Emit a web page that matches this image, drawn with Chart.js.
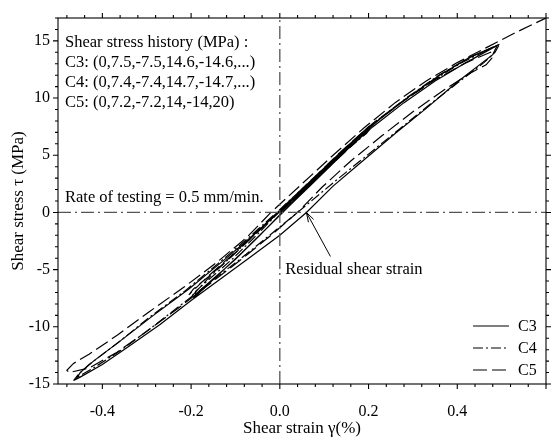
<!DOCTYPE html>
<html lang="en">
<head>
  <meta charset="UTF-8">
  <title>Shear stress - shear strain hysteresis</title>
  <script src="https://cdn.jsdelivr.net/npm/chart.js"></script>
  <style>
    html, body { margin: 0; padding: 0; background: #fff; }
  </style>
</head>
<body>
  <canvas id="hystChart" width="556" height="439"></canvas>

  <script>
    // values (strain in %, stress in MPa)
    const c3Strain = [0, 0.05, 0.1, 0.15, 0.2,
      0.195, 0.16, 0.115, 0.07, 0.025, -0.03, -0.085, -0.14, -0.195,
      -0.185, -0.15, -0.1, -0.045, 0.01, 0.08, 0.15, 0.22, 0.29, 0.36, 0.43, 0.49,
      0.48, 0.45, 0.4, 0.33, 0.26, 0.19, 0.12, 0.06, 0.0, -0.07, -0.14, -0.2, -0.27, -0.34, -0.4, -0.45, -0.46,
      -0.45, -0.42, -0.355, -0.285, -0.205, -0.13, -0.06, 0.0, 0.07, 0.14, 0.21, 0.28, 0.35, 0.42, 0.49];
    const c3Stress = [0, 1.9, 3.8, 5.7, 7.5,
      7.0, 5.8, 4.1, 2.4, 0.7, -1.4, -3.5, -5.5, -7.5,
      -7.0, -5.8, -4.1, -2.0, 0.2, 2.9, 5.6, 8.0, 10.1, 12.0, 13.6, 14.6,
      13.8, 12.9, 11.4, 9.1, 6.9, 4.6, 2.3, 0.0, -2.0, -4.0, -6.0, -7.7, -9.8, -11.7, -13.3, -14.4, -14.6,
      -14.0, -13.0, -11.1, -9.0, -6.7, -4.3, -2.0, 0.1, 2.6, 5.1, 7.5, 9.6, 11.5, 13.1, 14.6];

    const c4Strain = [0, 0.05, 0.1, 0.15, 0.205,
      0.195, 0.155, 0.105, 0.055, 0.005, -0.05, -0.105, -0.16, -0.2,
      -0.19, -0.155, -0.105, -0.05, 0.005, 0.075, 0.145, 0.215, 0.285, 0.355, 0.425, 0.495,
      0.485, 0.46, 0.41, 0.34, 0.27, 0.2, 0.13, 0.04, -0.02, -0.09, -0.16, -0.22, -0.29, -0.36, -0.42, -0.46, -0.465,
      -0.455, -0.43, -0.365, -0.295, -0.215, -0.14, -0.07, -0.01, 0.06, 0.13, 0.2, 0.27, 0.34, 0.41, 0.495];
    const c4Stress = [0, 1.8, 3.6, 5.5, 7.4,
      6.9, 5.6, 3.9, 2.1, 0.3, -1.7, -3.7, -5.7, -7.4,
      -6.9, -5.7, -4.0, -1.9, 0.3, 2.9, 5.5, 7.9, 10.0, 11.9, 13.5, 14.7,
      14.0, 13.1, 11.6, 9.5, 7.3, 5.1, 2.9, 0.0, -1.9, -4.1, -6.2, -8.0, -10.1, -12.1, -13.6, -14.5, -14.7,
      -14.2, -13.3, -11.4, -9.2, -6.9, -4.5, -2.2, -0.1, 2.4, 5.0, 7.4, 9.5, 11.4, 13.1, 14.7];

    const c5Strain = [0, 0.05, 0.1, 0.15, 0.2,
      0.19, 0.15, 0.1, 0.05, 0.0, -0.055, -0.11, -0.165, -0.205,
      -0.195, -0.16, -0.11, -0.055, 0.0, 0.07, 0.14, 0.21, 0.28, 0.35, 0.42, 0.475,
      0.478, 0.465, 0.43, 0.37, 0.3, 0.23, 0.16, 0.095, 0.04, -0.02, -0.09, -0.16, -0.23, -0.3, -0.37, -0.43, -0.475,
      -0.48, -0.465, -0.43, -0.365, -0.295, -0.215, -0.14, -0.075, -0.02, 0.05, 0.12, 0.19, 0.26, 0.33, 0.4, 0.47, 0.53, 0.6, 0.73];
    const c5Stress = [0, 1.8, 3.6, 5.4, 7.2,
      6.8, 5.5, 3.8, 2.0, 0.2, -1.8, -3.8, -5.7, -7.2,
      -6.7, -5.6, -3.9, -1.9, 0.2, 2.8, 5.4, 7.8, 9.8, 11.6, 13.1, 14.0,
      13.5, 12.9, 12.2, 10.7, 8.8, 6.7, 4.5, 2.2, 0.0, -2.0, -4.2, -6.3, -8.4, -10.4, -12.3, -13.6, -14.0,
      -13.8, -13.2, -12.4, -10.7, -8.7, -6.5, -4.3, -2.2, 0.0, 2.5, 5.0, 7.4, 9.6, 11.5, 13.1, 14.5, 15.7, 17.0, 20.0];

    const seriesNames = ['C3', 'C4', 'C5'];
    const historyLines = [
      'Shear stress history (MPa) :',
      'C3: (0,7.5,-7.5,14.6,-14.6,...)',
      'C4: (0,7.4,-7.4,14.7,-14.7,...)',
      'C5: (0,7.2,-7.2,14,-14,20)'
    ];
    const rateNote = 'Rate of testing = 0.5 mm/min.';
    const residualNote = 'Residual shear strain';
    const residualStrain = 0.06;

    const xMin = -0.5, xMax = 0.6, xMajor = 0.2, xMinor = 0.04;
    const yMin = -15, yMax = 17, yMajor = 5, yMinor = 1;

    const serif = "'Liberation Serif', 'Times New Roman', serif";

    function toPoints(xs, ys) {
      return xs.map((v, i) => ({ x: v, y: ys[i] }));
    }

    // box round the plot with outward major/minor ticks on all four sides
    const frameTicks = {
      id: 'frameTicks',
      afterDatasetsDraw(chart) {
        const { ctx, chartArea: a, scales: { x, y } } = chart;
        ctx.save();
        ctx.strokeStyle = '#000';
        ctx.lineWidth = 1.1;
        ctx.setLineDash([]);
        ctx.strokeRect(a.left, a.top, a.right - a.left, a.bottom - a.top);
        ctx.beginPath();
        const kx0 = Math.ceil(xMin / xMinor - 1e-6), kx1 = Math.floor(xMax / xMinor + 1e-6);
        for (let k = kx0; k <= kx1; k++) {
          const px = x.getPixelForValue(k * xMinor);
          const len = Math.abs(k * xMinor / xMajor - Math.round(k * xMinor / xMajor)) < 1e-6 ? 5 : 3;
          ctx.moveTo(px, a.bottom); ctx.lineTo(px, a.bottom + len);
          ctx.moveTo(px, a.top); ctx.lineTo(px, a.top - len);
        }
        for (let k = yMin; k <= yMax; k += yMinor) {
          const py = y.getPixelForValue(k);
          const len = k % yMajor === 0 ? 5 : 3;
          ctx.moveTo(a.left, py); ctx.lineTo(a.left - len, py);
          ctx.moveTo(a.right, py); ctx.lineTo(a.right + len, py);
        }
        ctx.stroke();
        ctx.restore();
      }
    };

    // text notes, residual strain arrow and the legend
    const notes = {
      id: 'notes',
      afterDraw(chart) {
        const { ctx, chartArea: a, scales: { x, y } } = chart;
        ctx.save();
        ctx.fillStyle = '#000';
        ctx.strokeStyle = '#000';
        ctx.font = '16.5px ' + serif;
        ctx.textBaseline = 'alphabetic';
        ctx.textAlign = 'left';
        historyLines.forEach((t, i) => ctx.fillText(t, a.left + 7, a.top + 29 + i * 20));

        const y0 = y.getPixelForValue(0);
        ctx.fillText(rateNote, a.left + 7, y0 - 10);
        ctx.fillText(residualNote, x.getPixelForValue(0.012), y0 + 62);

        // arrow to the residual strain
        const tipX = x.getPixelForValue(residualStrain), tipY = y0;
        const tailX = tipX + 24, tailY = tipY + 44;
        const ang = Math.atan2(tipY - tailY, tipX - tailX);
        ctx.lineWidth = 1;
        ctx.beginPath();
        ctx.moveTo(tailX, tailY);
        ctx.lineTo(tipX, tipY);
        ctx.moveTo(tipX - 10 * Math.cos(ang - 0.3), tipY - 10 * Math.sin(ang - 0.3));
        ctx.lineTo(tipX, tipY);
        ctx.lineTo(tipX - 10 * Math.cos(ang + 0.3), tipY - 10 * Math.sin(ang + 0.3));
        ctx.stroke();

        // legend, lower right
        ctx.font = '16px ' + serif;
        ctx.textBaseline = 'middle';
        const legendSets = chart.data.datasets.filter(d => d.inLegend);
        legendSets.forEach((d, i) => {
          const ly = a.bottom - 58 + i * 22;
          ctx.setLineDash(d.borderDash || []);
          ctx.lineWidth = d.borderWidth;
          ctx.beginPath();
          ctx.moveTo(a.right - 73, ly);
          ctx.lineTo(a.right - 37, ly);
          ctx.stroke();
          ctx.setLineDash([]);
          ctx.fillText(d.label, a.right - 28, ly + 1);
        });
        ctx.restore();
      }
    };

    const lineStyle = {
      showLine: true,
      borderColor: '#000',
      borderWidth: 1.2,
      pointRadius: 0,
      tension: 0,
      fill: false
    };

    const ctx = document.getElementById('hystChart').getContext('2d');
    const hystChart = new Chart(ctx, {
      type: 'scatter',
      data: {
        datasets: [
          { label: 'zeroX', data: [{ x: 0, y: yMin }, { x: 0, y: yMax }],
            showLine: true, pointRadius: 0, borderColor: '#555', borderWidth: 1.3, borderDash: [13, 4, 2, 4] },
          { label: 'zeroY', data: [{ x: xMin, y: 0 }, { x: xMax, y: 0 }],
            showLine: true, pointRadius: 0, borderColor: '#555', borderWidth: 1.3, borderDash: [13, 4, 2, 4] },
          { ...lineStyle, label: seriesNames[0], inLegend: true, data: toPoints(c3Strain, c3Stress), borderDash: [] },
          { ...lineStyle, label: seriesNames[1], inLegend: true, data: toPoints(c4Strain, c4Stress), borderDash: [10, 3, 2, 3] },
          { ...lineStyle, label: seriesNames[2], inLegend: true, data: toPoints(c5Strain, c5Stress), borderDash: [14, 5] }
        ]
      },
      options: {
        responsive: false,
        animation: false,
        layout: { padding: { top: 18, right: 10, left: 0, bottom: 0 } },
        plugins: {
          legend: { display: false },
          tooltip: { enabled: false }
        },
        scales: {
          x: {
            type: 'linear',
            min: xMin,
            max: xMax,
            afterFit: s => { s.height = 55; },
            grid: { display: false, drawTicks: false, tickLength: 0 },
            border: { display: false },
            ticks: {
              stepSize: xMajor,
              includeBounds: false,
              padding: 18,
              color: '#000',
              font: { family: serif, size: 16 },
              callback: v => Math.abs(v) < 1e-9 ? '0.0' : Number(v).toFixed(1)
            },
            title: {
              display: true,
              text: 'Shear strain γ(%)',
              color: '#000',
              font: { family: serif, size: 17 },
              padding: { top: 1, bottom: 0 }
            }
          },
          y: {
            type: 'linear',
            min: yMin,
            max: yMax,
            afterFit: s => { s.width = 58; },
            grid: { display: false, drawTicks: false, tickLength: 0 },
            border: { display: false },
            ticks: {
              stepSize: yMajor,
              includeBounds: false,
              padding: 8,
              color: '#000',
              font: { family: serif, size: 16 }
            },
            title: {
              display: true,
              text: 'Shear stress τ (MPa)',
              color: '#000',
              font: { family: serif, size: 17 },
              padding: { top: 8, bottom: 0 }
            }
          }
        }
      },
      plugins: [frameTicks, notes]
    });
  </script>
</body>
</html>
